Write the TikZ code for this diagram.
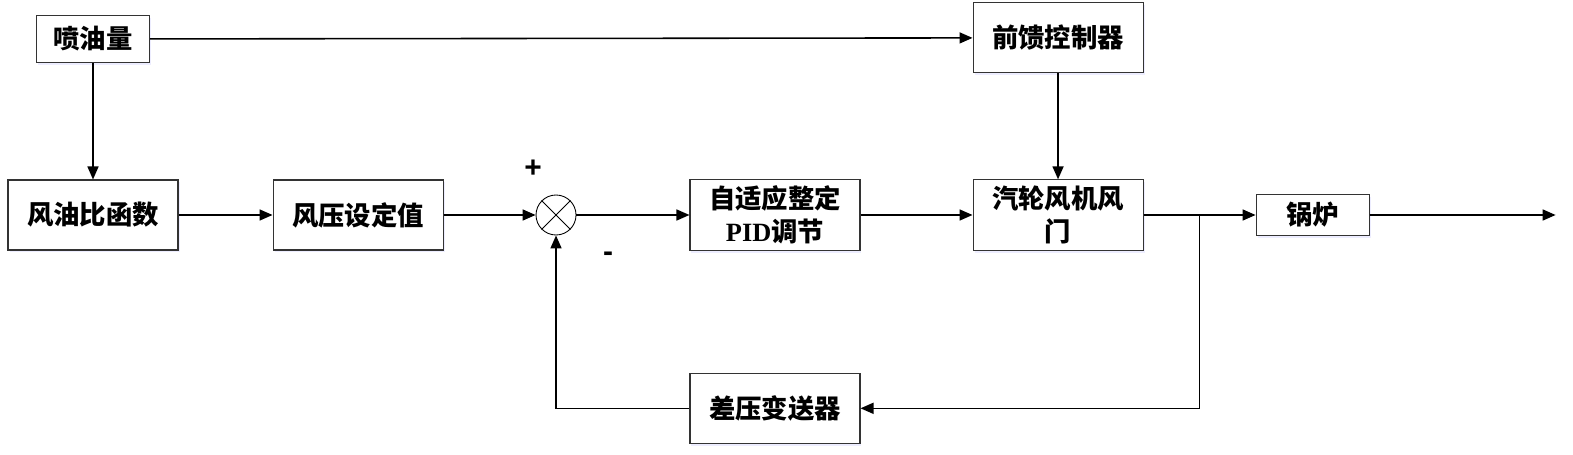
\documentclass[tikz,border=0pt]{standalone}
\usepackage{fontspec}
\setmainfont{Liberation Serif}
\newfontfamily\cjk{Noto Sans CJK SC}
\newfontfamily\latin{Liberation Serif}
\newfontfamily\signfont{Liberation Sans}
\usepackage{tikz}
\usetikzlibrary{shapes,arrows.meta,positioning,shadows}

\begin{document}
\begin{tikzpicture}[
    node distance=2.24cm,
    box/.style={rectangle, draw=black!80, line width=0.6pt, fill=white, minimum width=3.4cm, minimum height=1.4cm, align=center, font=\cjk\bfseries\fontsize{15}{19}\selectfont, drop shadow={shadow xshift=0.03cm, shadow yshift=-0.05cm, fill=blue!7, opacity=1}},
    sumnode/.style={circle, draw, line width=0.5pt, minimum size=0.8cm, inner sep=0pt},
    sign/.style={font=\signfont\bfseries\fontsize{17}{20}\selectfont, inner sep=0pt},
    arrow/.style={-{Triangle[length=0.26cm, width=0.22cm]}, line width=0.9pt},
]
    \useasboundingbox (0,0) rectangle (31.46,-9.10);
    \node[box, minimum width=2.26cm, minimum height=0.94cm] (oil) at (1.86,-0.78) {喷油量};
    \node[box] (ratio) at (1.86,-4.30) {风油比函数};
    \node[box, right=1.88cm of ratio] (setp) {风压设定值};
    \node[sumnode, right=1.84cm of setp] (sum) {};
    \draw[line width=0.5pt] (sum.north east) -- (sum.south west);
    \draw[line width=0.5pt] (sum.north west) -- (sum.south east);
    \node[sign] (plus) at ([xshift=-0.46cm, yshift=0.92cm]sum) {+};
    \node[sign] (minus) at ([xshift=1.04cm, yshift=-0.84cm]sum) {-};
    \node[box, right=2.26cm of sum] (pid) {自适应整定\\{\latin PID}调节};
    \node[box, right=of pid] (valve) {汽轮风机风\\门};
    \node[box, minimum width=2.26cm, minimum height=0.82cm, right=of valve] (boiler) {锅炉};
    \node[box, above=2.12cm of valve] (ff) {前馈控制器};
    \node[box, below=2.44cm of pid] (dp) {差压变送器};
    \coordinate[right=1.12cm of valve] (tap);
    \coordinate[right=3.72cm of boiler] (out);

    \draw[arrow] (oil) -- (ff);
    \draw[arrow] (oil) -- (ratio);
    \draw[arrow] (ratio) -- (setp);
    \draw[arrow] (setp) -- (sum);
    \draw[arrow] (sum) -- (pid);
    \draw[arrow] (pid) -- (valve);
    \draw[arrow] (ff) -- (valve);
    \draw[arrow] (valve) -- (boiler);
    \draw[arrow] (boiler) -- (out);
    \draw[arrow] (tap) |- (dp);
    \draw[arrow] (dp) -| (sum);
\end{tikzpicture}
\end{document}
